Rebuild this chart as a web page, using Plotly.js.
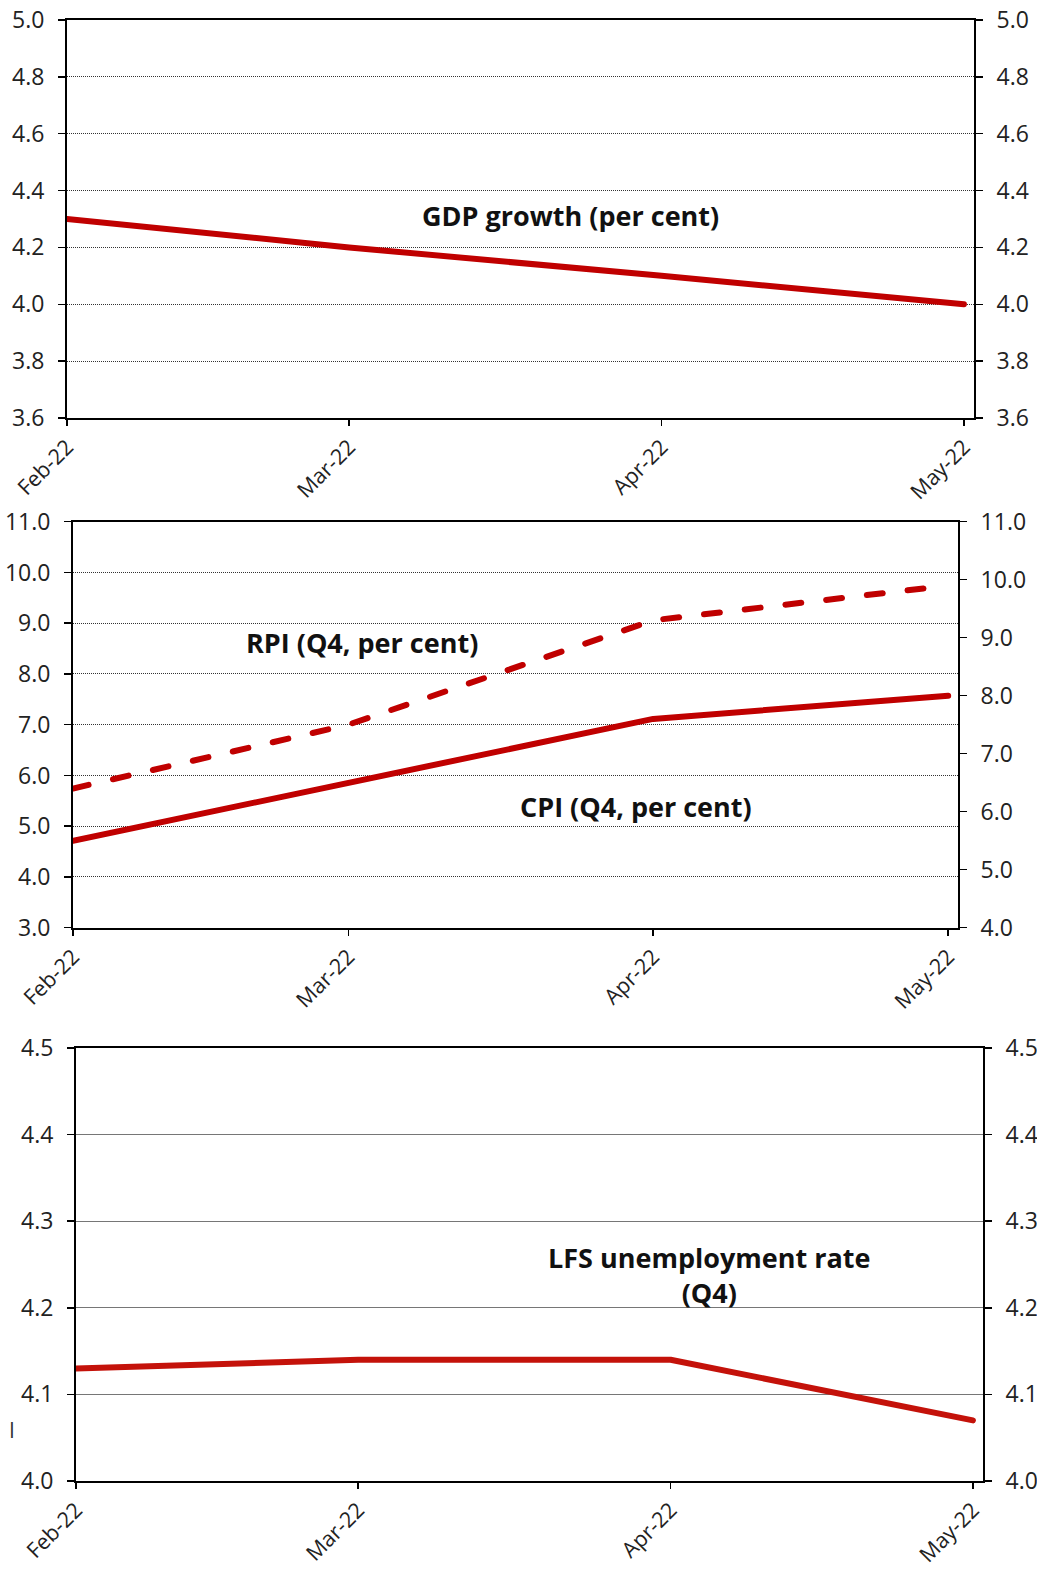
<!DOCTYPE html>
<html>
<head>
<meta charset="utf-8">
<script src="https://cdn.plot.ly/plotly-3.0.1.min.js"></script>
<style>
  html, body { margin: 0; padding: 0; background: #fff; }
  #chart { width: 1037px; height: 1571px; }
  .scatterlayer .js-line { stroke-linecap: round; stroke-linejoin: round; }
</style>
</head>
<body>
<div id="chart"></div>
<script>
// ---- data ----
const months = ['2022-02-01', '2022-03-01', '2022-04-01', '2022-05-01'];
const tickLabels = ['Feb-22', 'Mar-22', 'Apr-22', 'May-22'];
const gdpGrowth = [4.3, 4.2, 4.1, 4.0];
const rpiQ4 = [6.4, 7.5, 9.3, 9.9];
const cpiQ4 = [5.5, 6.5, 7.6, 8.0];
const unemploymentQ4 = [4.13, 4.14, 4.14, 4.07];

const gdpLabel = 'GDP growth (per cent)';
const rpiLabel = 'RPI (Q4, per cent)';
const cpiLabel = 'CPI (Q4, per cent)';
const lfsLabel = 'LFS unemployment rate<br>(Q4)';

// ---- style ----
const W = 1037, H = 1571;
const FONT = '"Open Sans", "Noto Sans", sans-serif';
const RED = '#C00000';
const RED3 = '#C4120A';
const tickFont = { family: FONT, size: 23, color: '#222' };
const xTickFont = { family: FONT, size: 21.5, color: '#222' };
const px = v => v / W;
const py = v => 1 - v / H;

function xAxis(l, r) {
  return {
    type: 'date',
    domain: [px(l), px(r)],
    range: ['2022-02-01', '2022-05-02'],
    tickvals: months,
    ticktext: tickLabels,
    tickangle: -45,
    ticks: 'outside', ticklen: 6, tickwidth: 1.5, tickcolor: '#000',
    showline: true, linecolor: '#000', linewidth: 2, mirror: true,
    showgrid: false, zeroline: false,
    tickfont: xTickFont
  };
}
function yAxis(top, bottom, range, dtick, grid, side, overlay, anchor) {
  const a = {
    domain: [py(bottom), py(top)],
    range: range, dtick: dtick, tick0: range[0], tickformat: '.1f',
    ticks: 'outside', ticklen: 7, tickwidth: 1.5, tickcolor: '#000',
    showline: true, linecolor: '#000', linewidth: 2,
    zeroline: false, tickfont: tickFont, side: side, anchor: anchor,
    ticklabelstandoff: 9
  };
  if (grid) {
    a.showgrid = true; a.gridcolor = grid.color; a.gridwidth = 1; a.griddash = grid.dash;
  } else {
    a.showgrid = false;
  }
  if (overlay) a.overlaying = overlay;
  return a;
}

const dotGrid = { color: '#333', dash: '1px,1px' };
const solidGrid = { color: '#767676', dash: 'solid' };

const traces = [
  // panel 1
  { x: months, y: gdpGrowth, xaxis: 'x', yaxis: 'y', mode: 'lines',
    line: { color: RED, width: 6 }, hoverinfo: 'skip', showlegend: false },
  { x: months, y: gdpGrowth, xaxis: 'x', yaxis: 'y2', mode: 'lines',
    line: { color: 'rgba(0,0,0,0)', width: 0 }, hoverinfo: 'skip', showlegend: false },
  // panel 2 (series on the right-hand scale)
  { x: months, y: rpiQ4, xaxis: 'x2', yaxis: 'y4', mode: 'lines',
    line: { color: RED, width: 6, dash: '16px,25px' }, hoverinfo: 'skip', showlegend: false },
  { x: months, y: cpiQ4, xaxis: 'x2', yaxis: 'y4', mode: 'lines',
    line: { color: RED, width: 6 }, hoverinfo: 'skip', showlegend: false },
  { x: months, y: cpiQ4, xaxis: 'x2', yaxis: 'y3', mode: 'lines',
    line: { color: 'rgba(0,0,0,0)', width: 0 }, hoverinfo: 'skip', showlegend: false },
  // panel 3
  { x: months, y: unemploymentQ4, xaxis: 'x3', yaxis: 'y5', mode: 'lines',
    line: { color: RED3, width: 6 }, hoverinfo: 'skip', showlegend: false },
  { x: months, y: unemploymentQ4, xaxis: 'x3', yaxis: 'y6', mode: 'lines',
    line: { color: 'rgba(0,0,0,0)', width: 0 }, hoverinfo: 'skip', showlegend: false }
];

const labelFont = { family: FONT, size: 27, color: '#111', weight: 'bold' };

const layout = {
  width: W, height: H,
  margin: { l: 0, r: 0, t: 0, b: 0 },
  paper_bgcolor: '#fff', plot_bgcolor: '#fff',
  showlegend: false,
  xaxis: Object.assign(xAxis(67, 974), { anchor: 'y' }),
  yaxis: yAxis(20, 418, [3.6, 5.0], 0.2, dotGrid, 'left', null, 'x'),
  yaxis2: yAxis(20, 418, [3.6, 5.0], 0.2, null, 'right', 'y', 'x'),

  xaxis2: Object.assign(xAxis(73, 958), { anchor: 'y3' }),
  yaxis3: yAxis(521.7, 927.7, [3, 11], 1, dotGrid, 'left', null, 'x2'),
  yaxis4: yAxis(521.7, 927.7, [4, 11], 1, null, 'right', 'y3', 'x2'),

  xaxis3: Object.assign(xAxis(76, 983), { anchor: 'y5' }),
  yaxis5: yAxis(1048, 1481, [4.0, 4.5], 0.1, solidGrid, 'left', null, 'x3'),
  yaxis6: yAxis(1048, 1481, [4.0, 4.5], 0.1, null, 'right', 'y5', 'x3'),

  annotations: [
    { xref: 'paper', yref: 'paper', x: px(570), y: py(216), text: '<b>' + gdpLabel + '</b>',
      showarrow: false, xanchor: 'center', yanchor: 'middle', font: labelFont },
    { xref: 'paper', yref: 'paper', x: px(362), y: py(642), text: '<b>' + rpiLabel + '</b>',
      showarrow: false, xanchor: 'center', yanchor: 'middle', font: labelFont },
    { xref: 'paper', yref: 'paper', x: px(636), y: py(806), text: '<b>' + cpiLabel + '</b>',
      showarrow: false, xanchor: 'center', yanchor: 'middle', font: labelFont },
    { xref: 'paper', yref: 'paper', x: px(709), y: py(1275), text: '<b>' + lfsLabel + '</b>',
      showarrow: false, xanchor: 'center', yanchor: 'middle', align: 'center', font: labelFont },
    { xref: 'paper', yref: 'paper', x: px(12), y: py(1430), text: 'I',
      showarrow: false, xanchor: 'center', yanchor: 'middle', font: { family: FONT, size: 21, color: '#333' } }
  ]
};

Plotly.newPlot('chart', traces, layout, { staticPlot: true, displayModeBar: false });
</script>
</body>
</html>
